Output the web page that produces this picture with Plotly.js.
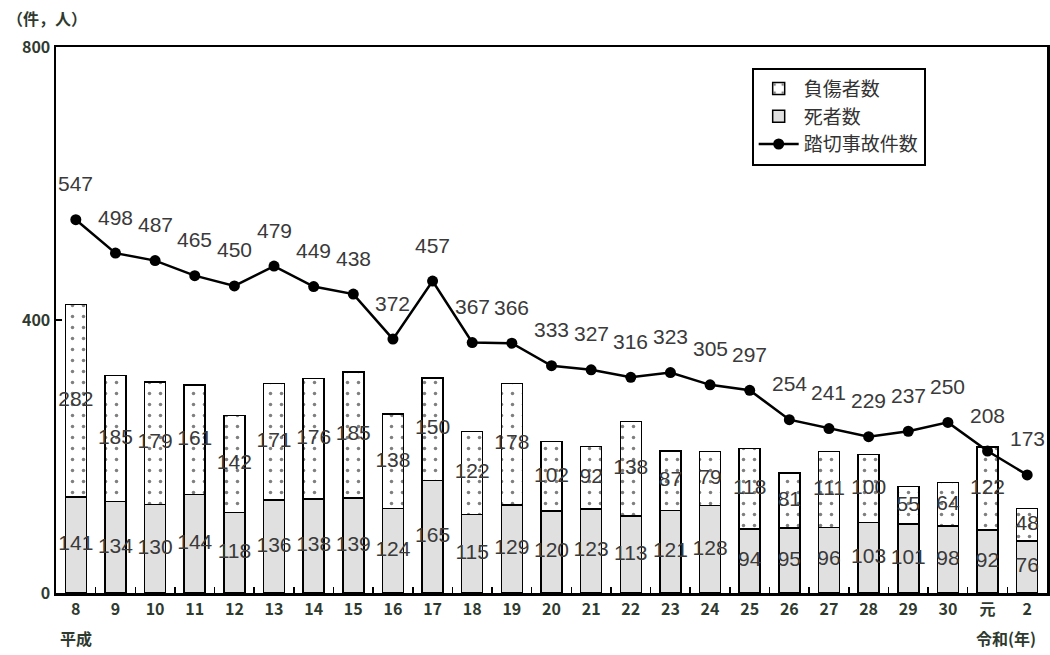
<!DOCTYPE html>
<html><head><meta charset="utf-8">
<script src="https://cdn.plot.ly/plotly-3.0.1.min.js"></script>
<style>body{margin:0;background:#fff}#c{width:1050px;height:655px}</style>
</head><body><div id="c"></div>
<script>
const years = ["8","9","10","11","12","13","14","15","16","17","18","19","20","21","22","23","24","25","26","27","28","29","30","元","2"];
const deaths = [141,134,130,144,118,136,138,139,124,165,115,129,120,123,113,121,128,94,95,96,103,101,98,92,76];
const injuries = [282,185,179,161,142,171,176,185,138,150,122,178,102,92,138,87,79,118,81,111,100,55,64,122,48];
const accidents = [547,498,487,465,450,479,449,438,372,457,367,366,333,327,316,323,305,297,254,241,229,237,250,208,173];

const labelFont = {family:"Liberation Sans, Arial, sans-serif", size:21, color:"#3a3a3a"};
const tickFont = {family:"Noto Sans CJK JP, sans-serif", size:16, color:"#2f3a2f", weight:"bold"};
const cjk = "Noto Sans CJK JP, sans-serif";

const traces = [
  {type:"bar", name:"死者数", x:years, y:deaths, width:0.53, legendrank:2,
   marker:{color:"#e0e0e0", line:{color:"#000", width:1.5}}, hoverinfo:"skip"},
  {type:"bar", name:"負傷者数", x:years, y:injuries, width:0.53, legendrank:1,
   marker:{color:"#fff", line:{color:"#000", width:1.5},
     pattern:{shape:".", fgcolor:"#000", bgcolor:"#fff", size:11, solidity:0.08, fillmode:"overlay"}}, hoverinfo:"skip"},
  {type:"scatter", mode:"lines+markers", name:"踏切事故件数", x:years, y:accidents, legendrank:3,
   line:{color:"#000", width:2.5}, marker:{color:"#000", size:11}, hoverinfo:"skip"},
  {type:"scatter", mode:"text", x:years, y:deaths.map(d=>d/2), text:deaths.map(String),
   textfont:labelFont, showlegend:false, hoverinfo:"skip"},
  {type:"scatter", mode:"text", x:years, y:deaths.map((d,i)=>d+injuries[i]/2), text:injuries.map(String),
   textfont:labelFont, showlegend:false, hoverinfo:"skip"}
];

const annotations = accidents.map((v,i)=>({x:i, y:v, xref:"x", yref:"y", text:String(v),
  showarrow:false, yshift:36, font:labelFont}));
annotations.push(
  {xref:"paper", yref:"paper", x:-0.051, y:1.053, xanchor:"left", yanchor:"middle", text:"（件，人）", showarrow:false,
   font:{family:cjk, size:16, color:"#2f3a2f", weight:"bold"}},
  {xref:"x", yref:"paper", x:0, y:-0.082, xanchor:"center", yanchor:"middle", text:"平成", showarrow:false,
   font:tickFont},
  {xref:"x", yref:"paper", x:years.indexOf("元"), y:-0.082, xanchor:"left", xshift:-14, yanchor:"middle", text:"令和(年)", showarrow:false,
   font:tickFont}
);

const layout = {
  width:1050, height:655,
  margin:{l:56, r:3, t:47, b:62},
  paper_bgcolor:"#fff", plot_bgcolor:"#fff",
  barmode:"stack",
  showlegend:true,
  legend:{x:0.702, y:0.962, xanchor:"left", yanchor:"top", bordercolor:"#000", borderwidth:2,
    bgcolor:"#fff", font:{family:cjk, size:19, color:"#333"}, traceorder:"normal", itemwidth:40,
    tracegroupgap:4},
  xaxis:{type:"category", range:[-0.5, years.length-0.5], autorange:false,
    showline:true, linecolor:"#000", linewidth:2.5, mirror:true,
    ticks:"inside", tickson:"boundaries", ticklen:6, tickcolor:"#000", tickwidth:1.5,
    tickfont:tickFont, showgrid:false, zeroline:false},
  yaxis:{range:[0,800], autorange:false, tickvals:[0,400,800], showline:true, linecolor:"#000", linewidth:2.5, mirror:true,
    ticks:"inside", ticklen:6, tickcolor:"#000", tickwidth:1.5, showgrid:false, zeroline:false,
    tickfont:tickFont},
  annotations:annotations
};
Plotly.newPlot("c", traces, layout, {staticPlot:true});
</script></body></html>
